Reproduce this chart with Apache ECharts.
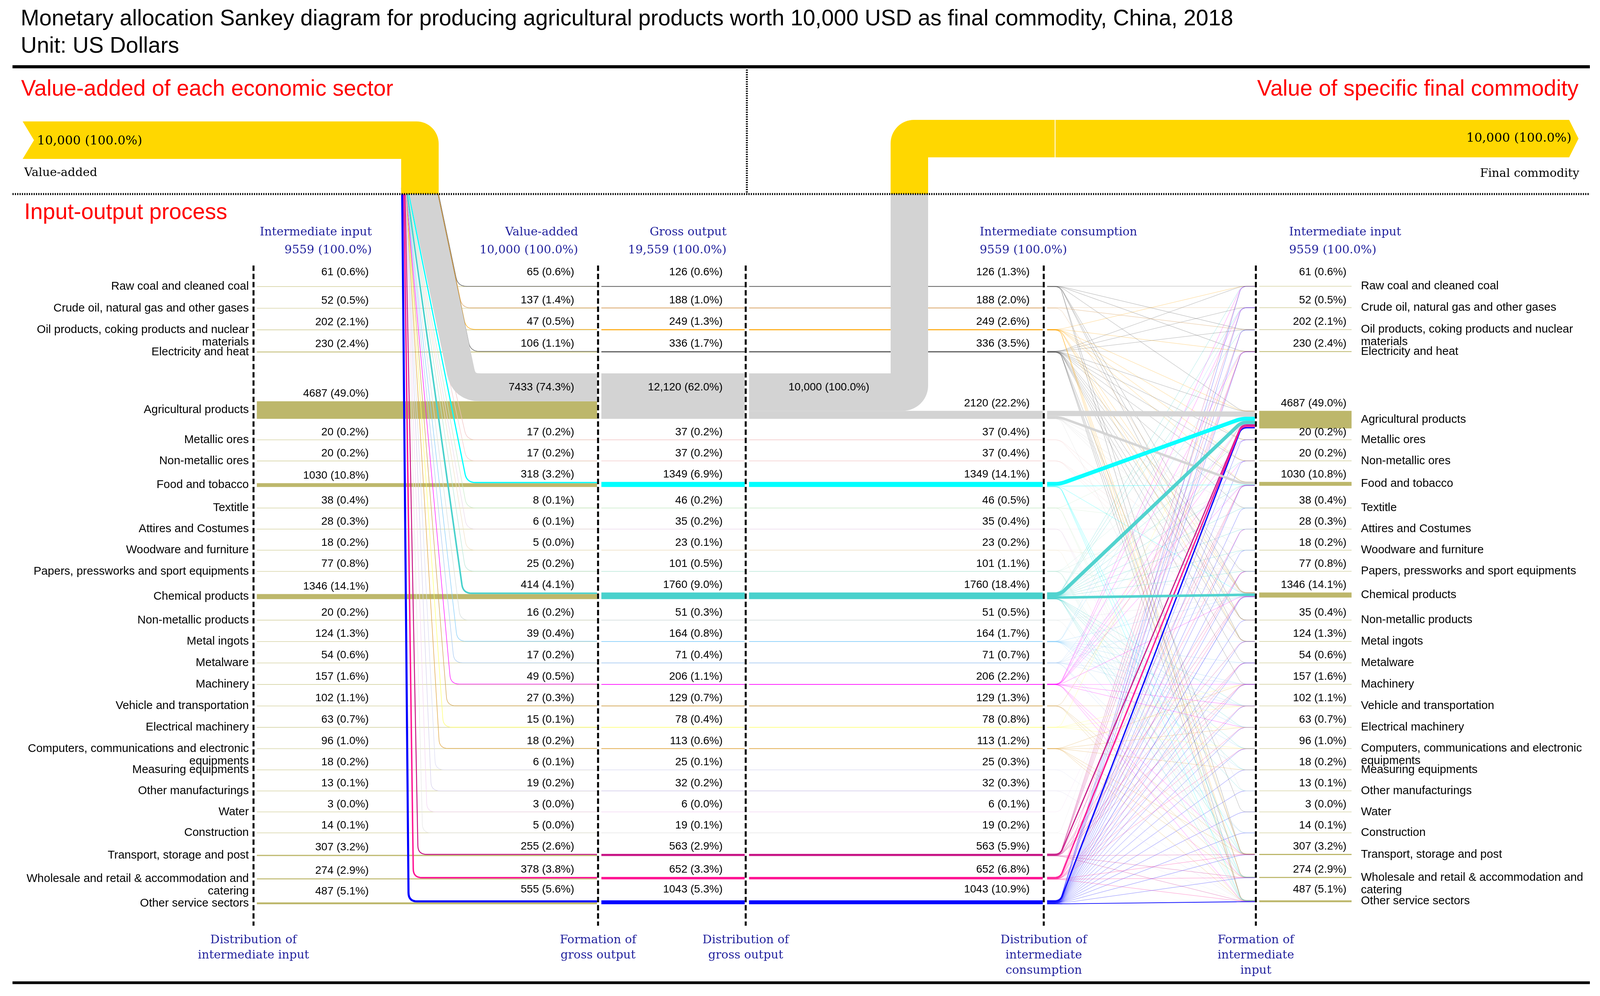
<!DOCTYPE html>
<html>
<head>
<meta charset="utf-8">
<script src="https://cdn.jsdelivr.net/npm/echarts@6/dist/echarts.min.js"></script>
<style>html,body{margin:0;padding:0;background:#fff}#c{width:4110px;height:2551px}</style>
</head>
<body>
<div id="c"></div>
<script>
// ---------------- DATA ----------------
const sectorNames = [
  'Raw coal and cleaned coal',
  'Crude oil, natural gas and other gases',
  'Oil products, coking products and nuclear\nmaterials',
  'Electricity and heat',
  'Agricultural products',
  'Metallic ores',
  'Non-metallic ores',
  'Food and tobacco',
  'Textitle',
  'Attires and Costumes',
  'Woodware and furniture',
  'Papers, pressworks and sport equipments',
  'Chemical products',
  'Non-metallic products',
  'Metal ingots',
  'Metalware',
  'Machinery',
  'Vehicle and transportation',
  'Electrical machinery',
  'Computers, communications and electronic\nequipments',
  'Measuring equipments',
  'Other manufacturings',
  'Water',
  'Construction',
  'Transport, storage and post',
  'Wholesale and retail & accommodation and\ncatering',
  'Other service sectors'
];
const sectorColors = ['#4a4a4a','#D9A566','#FFA500','#5a5a5a','#D3D3D3','#F2C4C4','#F4CCCC','#00FFFF','#C9EBC9','#EBD9EB','#F0E2C8','#B8E6D8','#48D1CC','#D5DEDE','#87CEFA','#A9CBF3','#FF00FF','#D2A24C','#FFFF66','#E0A43C','#DCDCF2','#D6D0EC','#F3D6F3','#E6E6E6','#C71585','#FF1493','#0000FF'];

// Distribution of intermediate input (left column)
const intermediateInputLeft = [61,52,202,230,4687,20,20,1030,38,28,18,77,1346,20,124,54,157,102,63,96,18,13,3,14,307,274,487];
const intermediateInputLeftPct = [0.6,0.5,2.1,2.4,49.0,0.2,0.2,10.8,0.4,0.3,0.2,0.8,14.1,0.2,1.3,0.6,1.6,1.1,0.7,1.0,0.2,0.1,0.0,0.1,3.2,2.9,5.1];
// Value-added
const valueAdded = [65,137,47,106,7433,17,17,318,8,6,5,25,414,16,39,17,49,27,15,18,6,19,3,5,255,378,555];
const valueAddedPct = [0.6,1.4,0.5,1.1,74.3,0.2,0.2,3.2,0.1,0.1,0.0,0.2,4.1,0.2,0.4,0.2,0.5,0.3,0.1,0.2,0.1,0.2,0.0,0.0,2.6,3.8,5.6];
// Gross output
const grossOutput = [126,188,249,336,12120,37,37,1349,46,35,23,101,1760,51,164,71,206,129,78,113,25,32,6,19,563,652,1043];
const grossOutputPct = [0.6,1.0,1.3,1.7,62.0,0.2,0.2,6.9,0.2,0.2,0.1,0.5,9.0,0.3,0.8,0.4,1.1,0.7,0.4,0.6,0.1,0.2,0.0,0.1,2.9,3.3,5.3];
// Intermediate consumption
const intermediateConsumption = [126,188,249,336,2120,37,37,1349,46,35,23,101,1760,51,164,71,206,129,78,113,25,32,6,19,563,652,1043];
const intermediateConsumptionPct = [1.3,2.0,2.6,3.5,22.2,0.4,0.4,14.1,0.5,0.4,0.2,1.1,18.4,0.5,1.7,0.7,2.2,1.3,0.8,1.2,0.3,0.3,0.1,0.2,5.9,6.8,10.9];
// Formation of intermediate input (right column)
const intermediateInputRight = [61,52,202,230,4687,20,20,1030,38,28,18,77,1346,35,124,54,157,102,63,96,18,13,3,14,307,274,487];
const intermediateInputRightPct = [0.6,0.5,2.1,2.4,49.0,0.2,0.2,10.8,0.4,0.3,0.2,0.8,14.1,0.4,1.3,0.6,1.6,1.1,0.7,1.0,0.2,0.1,0.0,0.1,3.2,2.9,5.1];

const finalCommodity = 10000;          // agricultural products as final commodity
const finalSector = 4;                 // Agricultural products
const columnTotals = [9559, 10000, 19559, 9559, 9559];
const columnHeaders = ['Intermediate input','Value-added','Gross output','Intermediate consumption','Intermediate input'];
const columnFooters = ['Distribution of\nintermediate input','Formation of\ngross output','Distribution of\ngross output','Distribution of\nintermediate\nconsumption','Formation of\nintermediate\ninput'];

// Intermediate consumption (row sector) -> intermediate input (column sector), estimated
const consumptionFlows = [
 [0,0,13],[0,2,15],[0,3,50],[0,4,3],[0,12,15],[0,13,5],[0,14,10],[0,24,10],[0,26,5],
 [1,1,3],[1,2,155],[1,12,30],
 [2,0,3],[2,3,10],[2,4,80],[2,5,4],[2,6,5],[2,7,5],[2,12,60],[2,13,3],[2,14,6],[2,24,50],[2,25,8],[2,26,15],
 [3,0,15],[3,1,8],[3,2,8],[3,3,40],[3,4,74],[3,5,5],[3,6,5],[3,7,15],[3,8,2],[3,11,5],[3,12,80],[3,13,6],[3,14,15],[3,15,5],[3,16,6],[3,22,2],[3,24,10],[3,25,15],[3,26,20],
 [4,4,1395],[4,7,650],[4,8,15],[4,10,5],[4,11,10],[4,12,40],[4,21,5],
 [5,12,5],[5,14,28],
 [6,12,15],[6,13,12],[6,14,5],
 [7,4,1050],[7,7,150],[7,12,16],[7,24,5],[7,25,80],[7,26,30],
 [8,4,4],[8,8,8],[8,9,15],[8,25,5],[8,26,4],
 [9,9,4],[9,24,5],[9,25,5],[9,26,10],
 [10,10,5],[10,11,3],[10,26,5],
 [11,4,6],[11,7,15],[11,11,25],[11,12,25],[11,24,5],[11,25,10],[11,26,15],
 [12,0,5],[12,1,8],[12,2,8],[12,4,930],[12,5,3],[12,6,2],[12,7,20],[12,8,10],[12,9,4],[12,10,4],[12,11,15],[12,12,663],[12,17,8],[12,18,6],[12,19,8],[12,20,3],[12,21,3],[12,24,10],[12,25,10],[12,26,40],
 [13,12,10],[13,13,5],[13,23,6],
 [14,1,4],[14,3,10],[14,12,10],[14,14,30],[14,15,30],[14,16,35],[14,17,15],[14,18,20],[14,19,6],[14,20,2],[14,23,3],
 [15,4,8],[15,7,5],[15,10,2],[15,12,10],[15,15,5],[15,16,15],[15,17,6],[15,23,2],[15,24,5],
 [16,0,5],[16,1,8],[16,3,20],[16,4,60],[16,5,4],[16,6,4],[16,7,5],[16,12,15],[16,16,35],[16,17,12],[16,18,4],[16,24,12],[16,25,5],[16,26,10],
 [17,4,5],[17,17,40],[17,24,40],[17,25,8],[17,26,10],
 [18,3,15],[18,16,12],[18,17,6],[18,18,15],[18,19,10],
 [19,16,8],[19,18,8],[19,19,60],[19,20,6],[19,24,10],[19,25,8],[19,26,15],
 [20,20,4],[20,26,5],
 [21,21,3],[21,26,5],
 [22,4,1],
 [23,3,10],[23,26,8],
 [24,0,8],[24,1,6],[24,2,6],[24,3,10],[24,4,320],[24,7,40],[24,11,3],[24,12,55],[24,14,8],[24,15,5],[24,16,9],[24,24,35],[24,25,30],[24,26,28],
 [25,3,5],[25,4,383],[25,7,55],[25,9,3],[25,11,6],[25,12,75],[25,15,4],[25,16,10],[25,17,5],[25,18,6],[25,19,5],[25,24,25],[25,25,30],[25,26,40],
 [26,0,10],[26,1,15],[26,2,10],[26,3,30],[26,4,368],[26,5,4],[26,6,4],[26,7,70],[26,8,3],[26,9,2],[26,10,2],[26,11,5],[26,12,130],[26,13,4],[26,14,7],[26,15,5],[26,16,12],[26,17,5],[26,18,4],[26,19,7],[26,20,3],[26,21,2],[26,22,1],[26,23,3],[26,24,70],[26,25,60],[26,26,200]
];

const titleText = 'Monetary allocation Sankey diagram for producing agricultural products worth 10,000 USD as final commodity, China, 2018';
const unitText = 'Unit: US Dollars';

// ---------------- LAYOUT ----------------
const W = 4110, H = 2551;
const S = 0.0096;          // px per dollar
const ROW0 = 733;          // px of first row
const GAP = 5590;          // spacing between rows (dollar-equivalent)
const N = sectorNames.length;
const X = { c1: 649, c2: 1531, c3: 1909, c4: 2672, c5: 3215, rightEnd: 3460, vaRight: 1123,
            finalLeft: 2280, yellowStart: 58, tipX: 4041, frameL: 32, frameR: 4070 };
const Y = { drop: 497, yellowLeftTop: 311, yellowRightTop: 307, axisTop: 680, axisBottom: 2371, topRule: 171, bottomRule: 2517 };
const OLIVE = '#BDB76B', GREY = '#D3D3D3', GOLD = '#FFD700', BLUE = '#1f1f9c', RED = '#FF0000';
const SANS = 'Liberation Sans, Arial, sans-serif';
const SERIF = 'DejaVu Serif, Liberation Serif, serif';
const labelUp = i => (i === 0 ? 36 : i === N - 1 ? 28 : 19);

const rowTop = []; { let a = 0; for (let i = 0; i < N; i++) { rowTop.push(a); a += grossOutput[i] + GAP; } }
const icTop = rowTop.map((t, i) => t + grossOutput[i] - intermediateConsumption[i]);
const vaCum = []; { let a = 0; for (let i = 0; i < N; i++) { vaCum.push(a); a += valueAdded[i]; } }
const totalValueAdded = valueAdded.reduce((a, b) => a + b, 0);

const srcOff = [], tgtOff = [];
{
  const sa = new Array(N).fill(0), ta = new Array(N).fill(0);
  const idx = consumptionFlows.map((_, k) => k);
  idx.slice().sort((a, b) => consumptionFlows[a][0] - consumptionFlows[b][0] || consumptionFlows[a][1] - consumptionFlows[b][1])
    .forEach(k => { const f = consumptionFlows[k]; srcOff[k] = sa[f[0]]; sa[f[0]] += f[2]; });
  idx.slice().sort((a, b) => consumptionFlows[a][1] - consumptionFlows[b][1] || consumptionFlows[a][0] - consumptionFlows[b][0])
    .forEach(k => { const f = consumptionFlows[k]; tgtOff[k] = ta[f[1]]; ta[f[1]] += f[2]; });
}
const linkOrder = consumptionFlows.map((_, k) => k).sort((a, b) => consumptionFlows[a][2] - consumptionFlows[b][2]);
const vaOrder = sectorNames.map((_, i) => i).filter(i => i !== finalSector).concat([finalSector]);

const fmtVal = v => v >= 10000 ? v.toLocaleString('en-US') : String(v);
const lab = (v, p) => fmtVal(v) + ' (' + p.toFixed(1) + '%)';

function roundPts(pts, r) {
  const out = [pts[0]];
  for (let k = 1; k < pts.length - 1; k++) {
    const p0 = pts[k - 1], p1 = pts[k], p2 = pts[k + 1];
    const d1 = Math.hypot(p1[0] - p0[0], p1[1] - p0[1]);
    const d2 = Math.hypot(p2[0] - p1[0], p2[1] - p1[1]);
    const rr = Math.min(r, d1 / 2, d2 / 2);
    if (rr < 0.5) { out.push(p1); continue; }
    const a = [p1[0] + (p0[0] - p1[0]) * rr / d1, p1[1] + (p0[1] - p1[1]) * rr / d1];
    const b = [p1[0] + (p2[0] - p1[0]) * rr / d2, p1[1] + (p2[1] - p1[1]) * rr / d2];
    for (let s = 0; s <= 8; s++) {
      const t = s / 8, u = 1 - t;
      out.push([u * u * a[0] + 2 * u * t * p1[0] + t * t * b[0], u * u * a[1] + 2 * u * t * p1[1] + t * t * b[1]]);
    }
  }
  out.push(pts[pts.length - 1]);
  return out;
}
function arc(cx, cy, r, a0, a1) {
  const o = []; for (let k = 0; k <= 16; k++) { const a = a0 + (a1 - a0) * k / 16; o.push([cx + r * Math.cos(a), cy + r * Math.sin(a)]); } return o;
}
function helpers(api) {
  return { px: d => Math.abs(api.size([0, d])[1]), cy: d => api.coord([0, d])[1] };
}
function hline(x1, x2, y, w, color, op) {
  return { type: 'line', shape: { x1, y1: y, x2, y2: y }, style: { stroke: color, lineWidth: w, opacity: op == null ? 1 : op } };
}

// ---------------- RENDERERS ----------------
function rowBands(params, api) {
  const i = api.value(0);
  const { px, cy } = helpers(api);
  const ch = [];
  const wII = px(intermediateInputLeft[i]);
  ch.push(hline(X.c1, X.c2, cy(rowTop[i] + valueAdded[i] + intermediateInputLeft[i] / 2), Math.max(wII, 1.6), OLIVE, wII < 2 ? 0.6 : 1));
  const wGO = px(grossOutput[i]);
  ch.push(hline(X.c2, X.c3, cy(rowTop[i] + grossOutput[i] / 2), Math.max(wGO, 1.6), sectorColors[i]));
  const wIC = px(intermediateConsumption[i]);
  ch.push(hline(X.c3, X.c4, cy(icTop[i] + intermediateConsumption[i] / 2), Math.max(wIC, 1.6), sectorColors[i]));
  const wR = px(intermediateInputRight[i]);
  ch.push(hline(X.c5, X.rightEnd, cy(icTop[i] + intermediateInputRight[i] / 2), Math.max(wR, 1.6), OLIVE, wR < 2 ? 0.6 : 1));
  return { type: 'group', children: ch };
}

function vaItem(params, api) {
  const i = api.value(0);
  const { px, cy } = helpers(api);
  const v = valueAdded[i];
  const xs = X.vaRight - px(vaCum[i] + v / 2);
  const yc = cy(rowTop[i] + v / 2);
  let xb;
  if (i <= finalSector) xb = xs + 0.21 * (yc - Y.drop);
  else { const t = Math.max(0, (i - 8) / (N - 1 - 8)); xb = Math.min(1195, 1205 - 159 * Math.pow(t, 1.4)); }
  const slope = (xb - xs) / (yc - Y.drop);
  const pts = roundPts([[xs - slope * 16, Y.drop - 16], [xb, yc], [X.c2, yc]], i === finalSector ? 40 : 22);
  return { type: 'polyline', shape: { points: pts },
           style: { stroke: sectorColors[i], lineWidth: Math.max(px(v), 1.3), fill: 'none', lineJoin: 'round' } };
}

function linkItem(params, api) {
  const k = api.value(0);
  const { px, cy } = helpers(api);
  const f = consumptionFlows[k];
  const s = f[0], t = f[1], v = f[2];
  const ys = cy(icTop[s] + srcOff[k] + v / 2);
  const yt = cy(icTop[t] + tgtOff[k] + v / 2);
  const w = px(v);
  const pts = roundPts([[X.c4, ys], [X.c4 + 42, ys], [X.c5 - 37, yt], [X.c5, yt]], 14);
  return { type: 'polyline', shape: { points: pts },
           style: { stroke: sectorColors[s], lineWidth: Math.max(w, 1), opacity: w >= 1.5 ? 0.95 : 0.45, fill: 'none', lineJoin: 'round' } };
}

function totalsItem(params, api) {
  const { px, cy } = helpers(api);
  const thL = px(totalValueAdded), thR = px(finalCommodity);
  const yT = Y.yellowLeftTop, xR = X.vaRight, R1 = 57;
  const left = [[X.yellowStart, yT]].concat(arc(xR - R1, yT + R1, R1, -Math.PI / 2, 0),
    [[xR, Y.drop], [xR - thL, Y.drop], [xR - thL, yT + thL], [X.yellowStart, yT + thL], [X.yellowStart + 29, yT + thL / 2]]);
  const yt = cy(rowTop[finalSector]), yb = cy(rowTop[finalSector] + finalCommodity);
  const xL = X.finalLeft, xRR = xL + (yb - yt), R3 = 65;
  const grey = [[X.c3, yt], [xL, yt], [xL, Y.drop], [xRR, Y.drop]].concat(arc(xRR - R3, yb - R3, R3, 0, Math.PI / 2), [[X.c3, yb]]);
  const yT2 = Y.yellowRightTop, R2 = 60;
  const right = [[xL, Y.drop]].concat(arc(xL + R2, yT2 + R2, R2, Math.PI, 1.5 * Math.PI),
    [[X.tipX - 24, yT2], [X.tipX, yT2 + thR / 2], [X.tipX - 24, yT2 + thR], [xRR, yT2 + thR], [xRR, Y.drop]]);
  const txt = (text, x, y, align, fam, size) => ({ type: 'text', style: { text, x, y, align, verticalAlign: 'middle', fill: '#000', fontFamily: fam, fontSize: size } });
  return { type: 'group', children: [
    { type: 'polygon', shape: { points: grey }, style: { fill: GREY } },
    { type: 'polygon', shape: { points: left }, style: { fill: GOLD } },
    { type: 'polygon', shape: { points: right }, style: { fill: GOLD } },
    { type: 'line', shape: { x1: 2701, y1: yT2, x2: 2701, y2: yT2 + thR }, style: { stroke: '#fff', lineWidth: 2 } },
    txt(lab(totalValueAdded, 100), 95, yT + thL / 2 + 3, 'left', SERIF, 32),
    txt(lab(finalCommodity, 100), 4023, yT2 + thR / 2, 'right', SERIF, 32),
    txt('Value-added', 62, 443, 'left', SERIF, 30),
    txt('Final commodity', 4043, 445, 'right', SERIF, 30),
    txt(lab(finalCommodity, 100), 2122, cy(rowTop[finalSector] + valueAdded[finalSector] / 2), 'center', SANS, 28)
  ] };
}

function labelItem(params, api) {
  const i = api.value(0);
  const { cy } = helpers(api);
  const ch = [];
  const up = labelUp(i);
  const t = (text, x, y, align, extra) => ({ type: 'text', style: Object.assign({ text, x, y, align, verticalAlign: 'middle', fill: '#000', fontFamily: SANS, fontSize: 28 }, extra || {}) });
  const iiMid = cy(rowTop[i] + valueAdded[i] + intermediateInputLeft[i] / 2);
  ch.push(t(sectorNames[i], 637, iiMid - 16, 'right', { verticalAlign: 'top', lineHeight: 32, fontSize: 29.5 }));
  const rMid = cy(icTop[i] + intermediateInputRight[i] / 2);
  ch.push(t(sectorNames[i], 3484, rMid - 16, 'left', { verticalAlign: 'top', lineHeight: 32, fontSize: 29.5 }));
  ch.push(t(lab(intermediateInputLeft[i], intermediateInputLeftPct[i]), 944, cy(rowTop[i] + valueAdded[i]) - up, 'right'));
  const big = valueAdded[i] > 5000;
  const yIn = cy(rowTop[i] + valueAdded[i] / 2);
  ch.push(t(lab(valueAdded[i], valueAddedPct[i]), 1470, big ? yIn : cy(rowTop[i]) - up, 'right'));
  ch.push(t(lab(grossOutput[i], grossOutputPct[i]), 1850, big ? yIn : cy(rowTop[i]) - up, 'right'));
  ch.push(t(lab(intermediateConsumption[i], intermediateConsumptionPct[i]), 2636, cy(icTop[i]) - up, 'right'));
  ch.push(t(lab(intermediateInputRight[i], intermediateInputRightPct[i]), 3447, cy(icTop[i]) - up, 'right'));
  return { type: 'group', children: ch };
}

// ---------------- STATIC FRAME ----------------
function gtext(text, x, y, st) {
  return { type: 'text', x, y, z: 40, silent: true,
           style: Object.assign({ text, fill: '#000', fontFamily: SANS, fontSize: 28, align: 'left', verticalAlign: 'middle' }, st) };
}
const cols = [X.c1, X.c2, X.c3, X.c4, X.c5];
const graphics = [
  gtext(titleText, 53, 49, { fontSize: 57 }),
  gtext(unitText, 53, 119, { fontSize: 57 }),
  gtext('Value-added of each economic sector', 54, 229, { fontSize: 57, fill: RED }),
  gtext('Value of specific final commodity', 4041, 229, { fontSize: 57, fill: RED, align: 'right' }),
  gtext('Input-output process', 62, 545, { fontSize: 57, fill: RED }),
  { type: 'line', z: 30, silent: true, shape: { x1: X.frameL, y1: Y.topRule, x2: X.frameR, y2: Y.topRule }, style: { stroke: '#000', lineWidth: 8 } },
  { type: 'line', z: 30, silent: true, shape: { x1: X.frameL, y1: Y.bottomRule, x2: X.frameR, y2: Y.bottomRule }, style: { stroke: '#000', lineWidth: 7 } },
  { type: 'line', z: 30, silent: true, shape: { x1: X.frameL, y1: Y.drop, x2: X.frameR, y2: Y.drop }, style: { stroke: '#000', lineWidth: 5, lineDash: [3, 3] } },
  { type: 'line', z: 30, silent: true, shape: { x1: 1912, y1: 178, x2: 1912, y2: Y.drop }, style: { stroke: '#000', lineWidth: 5, lineDash: [3, 3] } }
];
const hdrPos = [[952, 'right'], [1480, 'right'], [1860, 'right'], [2508, 'left'], [3300, 'left']];
columnHeaders.forEach((h, k) => {
  graphics.push(gtext(h, hdrPos[k][0], 595, { fontFamily: SERIF, fontSize: 30, fill: BLUE, align: hdrPos[k][1] }));
  graphics.push(gtext(lab(columnTotals[k], 100), hdrPos[k][0], 641, { fontFamily: SERIF, fontSize: 30, fill: BLUE, align: hdrPos[k][1] }));
});
cols.forEach((x, k) => {
  graphics.push({ type: 'line', z: 14, silent: true, shape: { x1: x + 3, y1: Y.axisTop, x2: x + 3, y2: Y.axisBottom }, style: { stroke: '#fff', lineWidth: 11 } });
  graphics.push({ type: 'line', z: 15, silent: true, shape: { x1: x, y1: Y.axisTop, x2: x, y2: Y.axisBottom }, style: { stroke: '#000', lineWidth: 5, lineDash: [14, 7] } });
  graphics.push(gtext(columnFooters[k], x, 2389, { fontFamily: SERIF, fontSize: 30, fill: BLUE, align: 'center', verticalAlign: 'top', lineHeight: 39 }));
});

// ---------------- CHART ----------------
const chart = echarts.init(document.getElementById('c'), null, { renderer: 'canvas', width: W, height: H });
chart.setOption({
  backgroundColor: '#fff',
  animation: false,
  grid: { left: 0, top: 0, width: W, height: H },
  xAxis: { type: 'value', min: 0, max: W, show: false },
  yAxis: { type: 'value', inverse: true, min: -ROW0 / S, max: (H - ROW0) / S, show: false },
  graphic: { elements: graphics },
  series: [
    { type: 'custom', name: 'rows', z: 2, silent: true, clip: false, data: sectorNames.map((_, i) => [i, grossOutput[i]]), renderItem: rowBands },
    { type: 'custom', name: 'consumption', z: 3, silent: true, clip: false, data: linkOrder.map(k => [k, consumptionFlows[k][2]]), renderItem: linkItem },
    { type: 'custom', name: 'valueAdded', z: 4, silent: true, clip: false, data: vaOrder.map(i => [i, valueAdded[i]]), renderItem: vaItem },
    { type: 'custom', name: 'totals', z: 6, silent: true, clip: false, data: [[0, finalCommodity]], renderItem: totalsItem },
    { type: 'custom', name: 'labels', z: 30, silent: true, clip: false, data: sectorNames.map((_, i) => [i, 0]), renderItem: labelItem }
  ]
});
</script>
</body>
</html>
